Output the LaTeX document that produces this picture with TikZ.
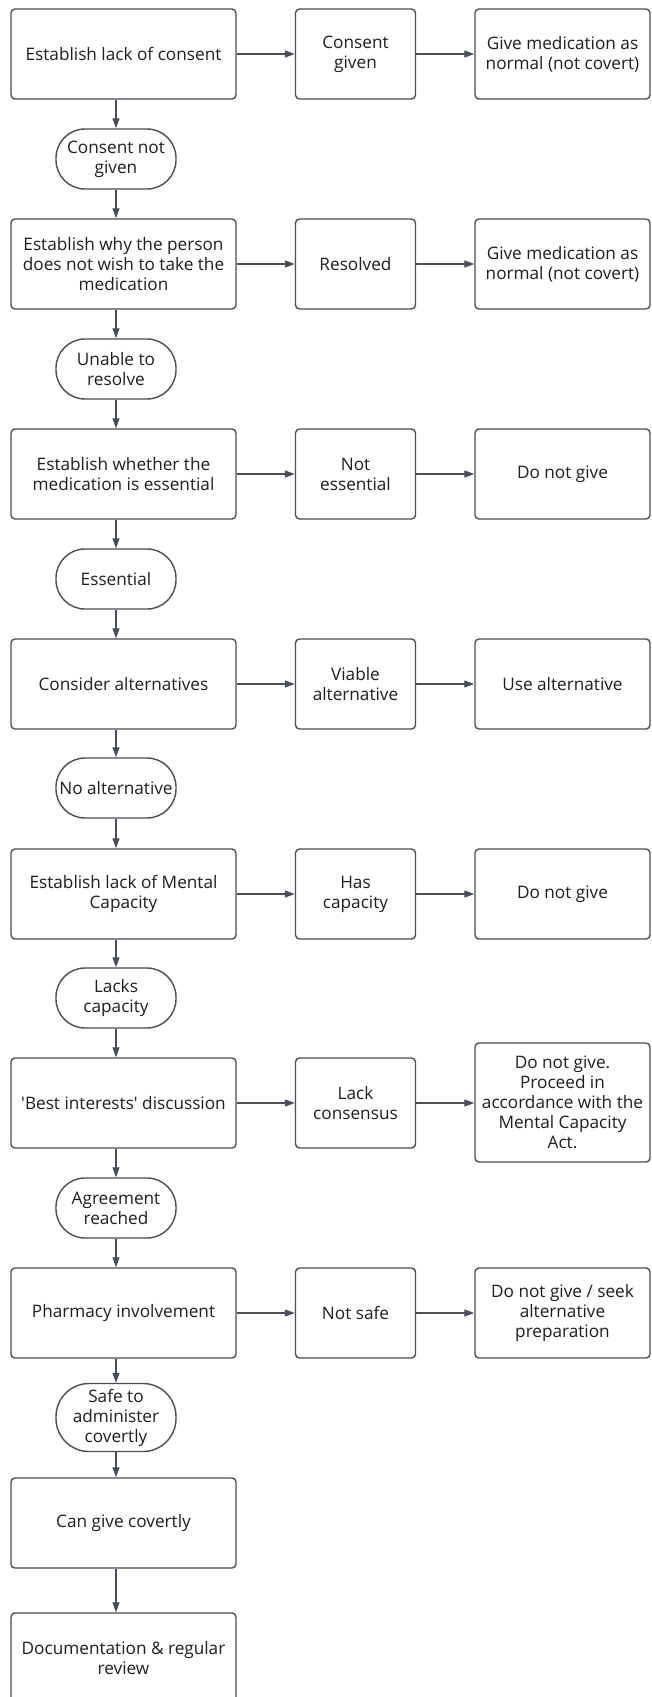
\documentclass[tikz,border=0pt]{standalone}
\usepackage{fontspec}
\setmainfont{Open Sans}
\usetikzlibrary{arrows.meta}
\definecolor{edge}{HTML}{4A4E55}
\definecolor{ink}{HTML}{1E1E1E}
\begin{document}
\begin{tikzpicture}[x=1pt,y=-1pt,
  every node/.style={font=\fontsize{17.2}{20}\selectfont, text=ink, align=center, inner sep=1pt},
  box/.style={draw=edge, line width=1.4pt, rounded corners=4pt, fill=white},
  lbox/.style={box, minimum width=225pt, minimum height=90pt},
  mbox/.style={box, minimum width=120pt, minimum height=90pt},
  rbox/.style={box, minimum width=175pt, minimum height=90pt},
  term/.style={draw=edge, line width=1.4pt, rounded corners=29pt, minimum width=120pt, minimum height=60pt, fill=white},
  arr/.style={draw=edge, line width=1.2pt, -{Triangle[length=10pt,width=7pt]}}
]
\useasboundingbox (0,0) rectangle (651,1697);
\clip (0,0) rectangle (651,1697);
\fill[white] (0,0) rectangle (651,1697);
\coordinate (spine) at (116,0);

% row 1
\node[lbox] (b1) at (123.5,54) {Establish lack of consent};
\node[mbox] (m1) at (355.5,54) {Consent\\given};
\node[rbox] (r1) at (562.5,54) {Give medication as\\normal (not covert)};
\node[term] (t1) at (116,159) {Consent not\\given};
% row 2
\node[lbox] (b2) at (123.5,264) {Establish why the person\\does not wish to take the\\medication};
\node[mbox] (m2) at (355.5,264) {Resolved};
\node[rbox] (r2) at (562.5,264) {Give medication as\\normal (not covert)};
\node[term] (t2) at (116,369) {Unable to\\resolve};
% row 3
\node[lbox] (b3) at (123.5,474) {Establish whether the\\medication is essential};
\node[mbox] (m3) at (355.5,474) {Not\\essential};
\node[rbox] (r3) at (562.5,474) {Do not give};
\node[term] (t3) at (116,579) {Essential};
% row 4
\node[lbox] (b4) at (123.5,684) {Consider alternatives};
\node[mbox] (m4) at (355.5,684) {Viable\\alternative};
\node[rbox] (r4) at (562.5,684) {Use alternative};
\node[term, inner sep=0pt] (t4) at (116,788) {No alternative};
% row 5
\node[lbox] (b5) at (123.5,894) {Establish lack of Mental\\Capacity};
\node[mbox] (m5) at (355.5,894) {Has\\capacity};
\node[rbox] (r5) at (562.5,894) {Do not give};
\node[term] (t5) at (116,998) {Lacks\\capacity};
% row 6
\node[lbox] (b6) at (123.5,1103) {\textquotesingle Best interests\textquotesingle\ discussion};
\node[mbox] (m6) at (355.5,1103) {Lack\\consensus};
\node[rbox, minimum height=119pt] (r6) at (562.5,1102.5) {Do not give.\\Proceed in\\accordance with the\\Mental Capacity\\Act.};
\node[term] (t6) at (116,1208) {Agreement\\reached};
% row 7
\node[lbox] (b7) at (123.5,1313) {Pharmacy involvement};
\node[mbox] (m7) at (355.5,1313) {Not safe};
\node[rbox] (r7) at (562.5,1313) {Do not give / seek\\alternative\\preparation};
\node[term, minimum height=68pt, rounded corners=33pt] (t7) at (116,1417.5) {Safe to\\administer\\covertly};
% row 8, 9
\node[lbox] (b8) at (123.5,1523) {Can give covertly};
\node[lbox] (b9) at (123.5,1658) {Documentation \& regular\\review};

% horizontal connectors
\foreach \i in {1,...,7} {
  \draw[arr] (b\i.east |- m\i) -- (m\i.west);
  \draw[arr] (m\i.east) -- (r\i.west |- m\i);
}
% vertical connectors
\foreach \i in {1,...,7} {
  \draw[arr] (b\i.south -| t\i) -- (t\i.north);
}
\foreach \i/\j in {1/2,2/3,3/4,4/5,5/6,6/7,7/8} {
  \draw[arr] (t\i.south) -- (t\i.south |- b\j.north);
}
\draw[arr] (b8.south -| spine) -- (b9.north -| spine);
\end{tikzpicture}
\end{document}
